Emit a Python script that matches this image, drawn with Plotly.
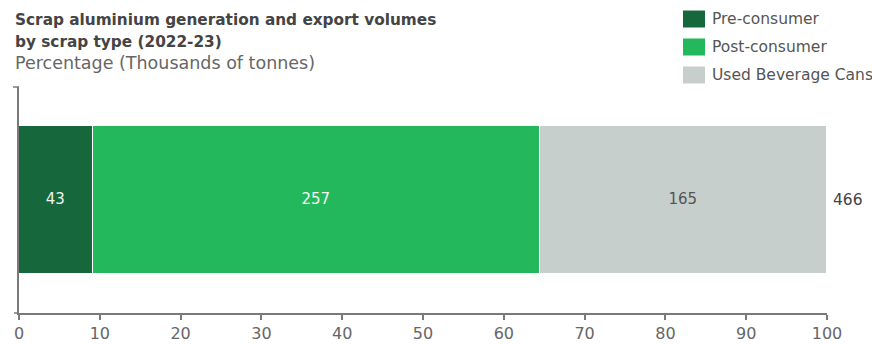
import plotly.graph_objects as go

categories = ["Pre-consumer", "Post-consumer", "Used Beverage Cans"]
volumes = [43, 257, 165]           # thousands of tonnes (bar labels)
percentages = [9.2, 55.3, 35.5]    # share of total, %
total_label = "466"
colors = ["#17673D", "#23B85B", "#C6CFCC"]
label_colors = ["#EEF3EE", "#F4F8F4", "#555555"]
x_ticks = [0, 10, 20, 30, 40, 50, 60, 70, 80, 90, 100]

W, H = 872, 344
L, R, T, B = 19, 45, 87, 31
PW, PH = W - L - R, H - T - B

def px(x):
    return (x - L) / PW

def py(y):
    return (H - B - y) / PH

FONT = "DejaVu Sans"
AXIS = "#7A7A7A"

fig = go.Figure()
for name, v, p, c, lc in zip(categories, volumes, percentages, colors, label_colors):
    fig.add_trace(go.Bar(
        y=[0], x=[p], orientation="h", name=name,
        marker=dict(color=c, line=dict(color="white", width=1.5)),
        width=1, text=[str(v)], textposition="inside", insidetextanchor="middle",
        textfont=dict(color=lc, size=15, family=FONT),
        hoverinfo="name+x", showlegend=False,
    ))

fig.add_annotation(x=sum(percentages), y=0, xref="x", yref="y", text=total_label,
                   showarrow=False, xanchor="left", xshift=4,
                   font=dict(size=15.5, color="#444444", family=FONT))

# Title block
fig.add_annotation(x=px(13), y=py(20), xref="paper", yref="paper", xanchor="left", yanchor="middle",
                   text="<b>Scrap aluminium generation and export volumes</b>", showarrow=False,
                   font=dict(size=15.3, color="#444444", family=FONT))
fig.add_annotation(x=px(13), y=py(42), xref="paper", yref="paper", xanchor="left", yanchor="middle",
                   text="<b>by scrap type (2022-23)</b>", showarrow=False,
                   font=dict(size=15.3, color="#444444", family=FONT))
fig.add_annotation(x=px(13), y=py(63), xref="paper", yref="paper", xanchor="left", yanchor="middle",
                   text="Percentage (Thousands of tonnes)", showarrow=False,
                   font=dict(size=17.5, color="#666666", family=FONT))

# Legend
for i, (name, c) in enumerate(zip(categories, colors)):
    yc = 19 + 28 * i
    fig.add_shape(type="rect", xref="paper", yref="paper",
                  x0=px(683), x1=px(705), y0=py(yc - 8.5), y1=py(yc + 8.5),
                  fillcolor=c, line=dict(width=0))
    fig.add_annotation(x=px(710), y=py(yc), xref="paper", yref="paper", xanchor="left", yanchor="middle",
                       text=name, showarrow=False, font=dict(size=15.5, color="#555555", family=FONT))

# Axis end stubs (small tick at top of y axis, x axis extending left of 0)
fig.add_shape(type="line", xref="paper", yref="paper", x0=px(13), x1=px(19), y0=1, y1=1,
              line=dict(color=AXIS, width=1.5))
fig.add_shape(type="line", xref="paper", yref="paper", x0=px(14), x1=px(19), y0=0, y1=0,
              line=dict(color=AXIS, width=1.5))

fig.update_layout(
    width=W, height=H, barmode="stack",
    margin=dict(l=L, r=R, t=T, b=B, autoexpand=False),
    plot_bgcolor="white", paper_bgcolor="white",
    bargap=0,
    xaxis=dict(range=[0, 100], tickvals=x_ticks, showgrid=False, zeroline=False,
               showline=True, linecolor=AXIS, linewidth=1.5, automargin=False,
               ticks="outside", ticklen=5, tickcolor=AXIS, tickwidth=1.5,
               tickfont=dict(size=16, color="#666666", family=FONT)),
    yaxis=dict(range=[-0.76, 0.76], showticklabels=False, showgrid=False, zeroline=False,
               showline=True, linecolor=AXIS, linewidth=1.5, ticks="", automargin=False),
    showlegend=False,
)

fig.write_html("out.html", config={"displayModeBar": False},
               post_script="document.body.style.margin='0px';")
